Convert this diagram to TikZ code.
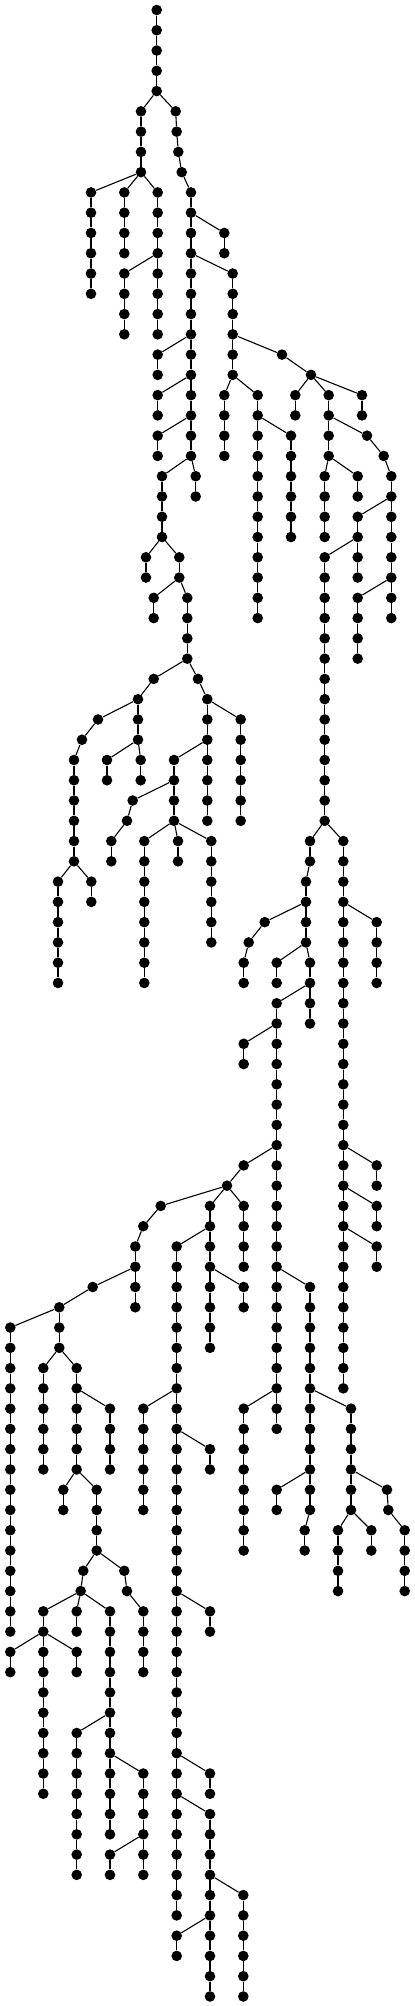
\documentclass[tikz,border=0pt]{standalone}
\begin{document}
\begin{tikzpicture}[x=1pt,y=1pt,
  dot/.style={circle,fill=black,draw=none,inner sep=0pt,minimum size=10.6pt},
  edge/.style={line width=1.1pt,black}]
\useasboundingbox (0,0) rectangle (415,-2006);
\newcommand\vtx[3]{\node[dot] (#1) at (#2,{-10-20.27*#3}) {};}
\newcommand\lnk[2]{\draw[edge] (#1) -- (#2);}
\newcommand\vchain[4]{%
  \foreach \r in {#3,...,#4}{\node[dot] (#1-\r) at (#2,{-10-20.27*\r}) {};}%
  \pgfmathtruncatemacro\vcs{#3+1}%
  \ifnum#4>#3\relax
    \foreach \r in {\vcs,...,#4}{\pgfmathtruncatemacro\vcp{\r-1}\draw[edge] (#1-\vcp) -- (#1-\r);}%
  \fi}
% top
\vchain{A}{156.7}{0}{4}
\vchain{B}{141}{5}{8} \lnk{A-4}{B-5}
\vtx{R-5}{175.7}{5} \vtx{R-6}{176.7}{6} \vtx{R-7}{178.3}{7} \vtx{R-8}{181.7}{8}
\lnk{A-4}{R-5}\lnk{R-5}{R-6}\lnk{R-6}{R-7}\lnk{R-7}{R-8}
\vchain{D}{91}{9}{14} \lnk{B-8}{D-9}
\vchain{F}{124.3}{9}{12} \lnk{B-8}{F-9}
\vchain{G}{157.7}{9}{16} \lnk{B-8}{G-9}
\vchain{F2}{124.3}{13}{16} \lnk{G-12}{F2-13}
\vchain{H}{191}{9}{22} \lnk{R-8}{H-9}
\vchain{I}{224.3}{11}{12} \lnk{H-10}{I-11}
\vchain{J}{232.7}{13}{18} \lnk{H-12}{J-13}
\vchain{G2}{157.7}{17}{18} \lnk{H-16}{G2-17}
\vchain{G3}{157.7}{19}{20} \lnk{H-18}{G3-19}
\vchain{G4}{157.7}{21}{22} \lnk{H-20}{G4-21}
\vchain{AA}{162}{23}{26} \lnk{H-22}{AA-23}
\vchain{AB}{195.7}{23}{24} \lnk{H-22}{AB-23}
\vchain{AC}{146}{27}{28} \lnk{AA-26}{AC-27}
\vchain{AD}{179.3}{27}{28} \lnk{AA-26}{AD-27}
\vchain{AE}{153.7}{29}{30} \lnk{AD-28}{AE-29}
\vchain{AF}{187.3}{29}{32} \lnk{AD-28}{AF-29}
\vtx{AG-33}{153.7}{33} \lnk{AF-32}{AG-33}
\vtx{AH-33}{198}{33} \lnk{AF-32}{AH-33}
\vtx{AI-34}{138}{34} \lnk{AG-33}{AI-34}
\vtx{AJ-35}{98}{35} \lnk{AI-34}{AJ-35}
\vchain{AK}{138}{35}{36} \lnk{AI-34}{AK-35}
\vtx{AL-36}{82}{36} \lnk{AJ-35}{AL-36}
\vchain{AM}{74}{37}{42} \lnk{AL-36}{AM-37}
\vchain{AN}{58}{43}{48} \lnk{AM-42}{AN-43}
\vchain{AO}{91.3}{43}{44} \lnk{AM-42}{AO-43}
\vchain{AP}{107}{37}{38} \lnk{AK-36}{AP-37}
\vchain{AQ}{140.7}{37}{38} \lnk{AK-36}{AQ-37}
\vchain{AR}{207.3}{34}{40} \lnk{AH-33}{AR-34}
\vchain{AS}{240.7}{35}{40} \lnk{AR-34}{AS-35}
\vchain{AT}{174}{37}{40} \lnk{AR-36}{AT-37}
\vtx{AU-39}{132.7}{39} \lnk{AT-38}{AU-39}
\vtx{AV-40}{127}{40} \lnk{AU-39}{AV-40}
\vchain{AW}{111.3}{41}{42} \lnk{AV-40}{AW-41}
\vchain{AX}{144.3}{41}{48} \lnk{AT-40}{AX-41}
\vchain{AY}{178}{41}{42} \lnk{AT-40}{AY-41}
\vchain{AZ}{211.3}{41}{46} \lnk{AT-40}{AZ-41}
% right
\vtx{K-17}{282}{17} \lnk{J-16}{K-17}
\vtx{L-18}{311}{18} \lnk{K-17}{L-18}
\vchain{M}{224.3}{19}{22} \lnk{J-18}{M-19}
\vchain{N}{257.7}{19}{30} \lnk{J-18}{N-19}
\vchain{O}{291}{21}{26} \lnk{N-20}{O-21}
\vchain{P}{295.3}{19}{20} \lnk{L-18}{P-19}
\vchain{Q}{328.7}{19}{22} \lnk{L-18}{Q-19}
\vchain{S}{362}{19}{20} \lnk{L-18}{S-19}
\vtx{Q2-21}{367}{21} \lnk{Q-20}{Q2-21}
\vtx{Q3-22}{383.7}{22} \lnk{Q2-21}{Q3-22}
\vchain{V}{391.3}{23}{30} \lnk{Q3-22}{V-23}
\vchain{T}{324.7}{23}{26} \lnk{Q-22}{T-23}
\vchain{U}{357.7}{23}{24} \lnk{Q-22}{U-23}
\vchain{X}{357.7}{25}{28} \lnk{V-24}{X-25}
\vchain{Y}{324.7}{27}{40} \lnk{X-26}{Y-27}
\vchain{W}{357.7}{29}{32} \lnk{V-28}{W-29}
\vchain{BA}{310}{41}{42} \lnk{Y-40}{BA-41}
\vchain{BB}{343.3}{41}{68} \lnk{Y-40}{BB-41}
\vchain{BC}{306}{43}{46} \lnk{BA-42}{BC-43}
\vtx{BD-45}{264.7}{45} \lnk{BC-44}{BD-45}
\vtx{BE-46}{248.7}{46} \lnk{BD-45}{BE-46}
\vchain{BF}{243.7}{47}{48} \lnk{BE-46}{BF-47}
\vchain{BG}{276.7}{47}{48} \lnk{BC-46}{BG-47}
\vchain{BH}{310}{47}{50} \lnk{BC-46}{BH-47}
\vchain{BI}{276.7}{49}{70} \lnk{BH-48}{BI-49}
\vchain{BJ}{243.7}{51}{52} \lnk{BI-50}{BJ-51}
\vtx{BK-57}{243.7}{57} \lnk{BI-56}{BK-57}
\vtx{BL-58}{227}{58} \lnk{BK-57}{BL-58}
\vtx{BM-59}{160.7}{59} \lnk{BL-58}{BM-59}
\vchain{BN}{210}{59}{66} \lnk{BL-58}{BN-59}
\vchain{BO}{243.7}{59}{62} \lnk{BL-58}{BO-59}
\vchain{BP}{310}{63}{72} \lnk{BI-62}{BP-63}
\vchain{BQ}{351}{69}{74} \lnk{BP-68}{BQ-69}
\vchain{BR}{276.7}{73}{74} \lnk{BP-72}{BR-73}
\vchain{BS}{310}{73}{74} \lnk{BP-72}{BS-73}
\vchain{BT}{304.7}{75}{76} \lnk{BS-74}{BT-75}
\vtx{BU-73}{387}{73} \lnk{BQ-72}{BU-73}
\vtx{BV-74}{388.3}{74} \lnk{BU-73}{BV-74}
\vchain{BW}{404.7}{75}{78} \lnk{BV-74}{BW-75}
\vchain{BX}{338}{75}{78} \lnk{BQ-74}{BX-75}
\vchain{BY}{371.3}{75}{76} \lnk{BQ-74}{BY-75}
\vchain{BZ}{243.7}{69}{76} \lnk{BI-68}{BZ-69}
\vchain{CA}{376.7}{45}{48} \lnk{BB-44}{CA-45}
\vchain{CB}{376.7}{57}{58} \lnk{BB-56}{CB-57}
\vchain{CC}{376.7}{59}{60} \lnk{BB-58}{CC-59}
\vchain{CD}{376.7}{61}{62} \lnk{BB-60}{CD-61}
% lower left
\vtx{CE-60}{143.3}{60} \lnk{BM-59}{CE-60}
\vchain{CF}{135.3}{61}{64} \lnk{CE-60}{CF-61}
\vtx{CG-63}{92.7}{63} \lnk{CF-62}{CG-63}
\vchain{CH}{59.3}{64}{66} \lnk{CG-63}{CH-64}
\vchain{CI}{10.3}{65}{80} \lnk{CH-64}{CI-65}
\vchain{CJ}{43.3}{67}{72} \lnk{CH-66}{CJ-67}
\vchain{CK}{76.7}{67}{72} \lnk{CH-66}{CK-67}
\vchain{CL}{110}{69}{72} \lnk{CK-68}{CL-69}
\vchain{CM}{63.3}{73}{74} \lnk{CK-72}{CM-73}
\vchain{CN}{96.7}{73}{76} \lnk{CK-72}{CN-73}
\vtx{CO-77}{83.3}{77} \lnk{CN-76}{CO-77}
\vtx{CP-78}{80.7}{78} \lnk{CO-77}{CP-78}
\vchain{CQ}{43.3}{79}{88} \lnk{CP-78}{CQ-79}
\vchain{CR}{76.7}{79}{80} \lnk{CP-78}{CR-79}
\vchain{CS}{110}{79}{90} \lnk{CP-78}{CS-79}
\vchain{CT}{10.3}{81}{82} \lnk{CQ-80}{CT-81}
\vchain{CU}{76.7}{81}{82} \lnk{CQ-80}{CU-81}
\vchain{CV}{76.7}{85}{92} \lnk{CS-84}{CV-85}
\vchain{CW}{143.3}{87}{92} \lnk{CS-86}{CW-87}
\vchain{CX}{110}{91}{92} \lnk{CW-90}{CX-91}
\vtx{CY-77}{124.3}{77} \lnk{CN-76}{CY-77}
\vtx{CZ-78}{127}{78} \lnk{CY-77}{CZ-78}
\vchain{DA}{143.3}{79}{82} \lnk{CZ-78}{DA-79}
\vchain{DB}{176.7}{61}{94} \lnk{BN-60}{DB-61}
\vchain{DC}{143.3}{69}{74} \lnk{DB-68}{DC-69}
\vchain{DD}{210}{71}{72} \lnk{DB-70}{DD-71}
\vchain{DE}{210}{79}{80} \lnk{DB-78}{DE-79}
\vchain{DF}{210}{87}{88} \lnk{DB-86}{DF-87}
\vchain{DG}{210}{89}{98} \lnk{DB-88}{DG-89}
\vchain{DH}{243.3}{93}{98} \lnk{DG-92}{DH-93}
\vchain{DI}{176.7}{95}{96} \lnk{DG-94}{DI-95}
\vchain{DJ}{243.7}{63}{64} \lnk{BN-62}{DJ-63}
\end{tikzpicture}
\end{document}
